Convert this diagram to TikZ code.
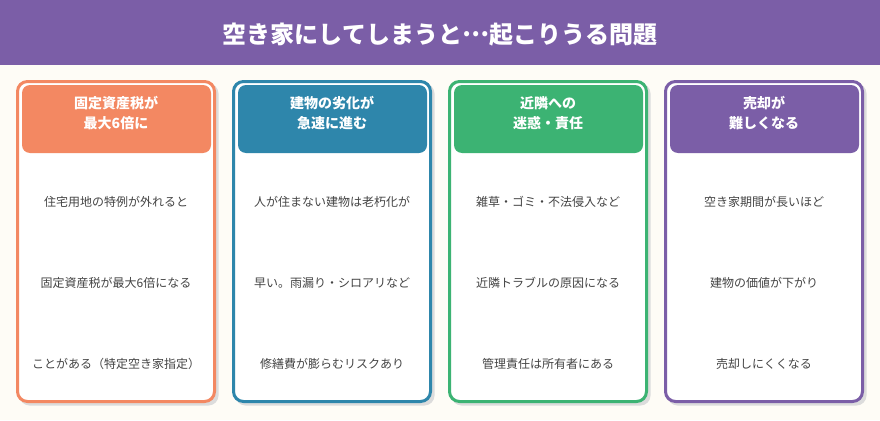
\documentclass[tikz,border=0pt]{standalone}
\usepackage{fontspec}
\setmainfont{Noto Sans CJK JP}
\usetikzlibrary{positioning}

\definecolor{bgcol}{HTML}{FEFCF6}
\definecolor{bandcol}{HTML}{7B5EA7}
\definecolor{taxcol}{HTML}{F38862}
\definecolor{agecol}{HTML}{2E86AB}
\definecolor{nbrcol}{HTML}{3CB373}
\definecolor{salecol}{HTML}{7B5EA7}
\definecolor{itemcol}{HTML}{444444}
\definecolor{shadowcol}{HTML}{DCDCDC}

\tikzset{
  cardbox/.style={draw=#1, line width=3pt, fill=white, rounded corners=10pt,
    minimum width=197pt, minimum height=320pt, inner sep=0pt},
  cardshadow/.style={fill=shadowcol, rounded corners=10pt,
    minimum width=199pt, minimum height=322pt, inner sep=0pt},
  headbox/.style={fill=#1, rounded corners=8pt, minimum width=189pt,
    minimum height=68pt, inner sep=0pt},
  headtext/.style={text=white, align=center, inner sep=0pt,
    font=\bfseries\fontsize{14}{20}\selectfont},
  itemtext/.style={text=itemcol, inner sep=0pt, font=\fontsize{12}{14}\selectfont}
}

\begin{document}
\begin{tikzpicture}[x=1pt, y=-1pt]

\def\width{880}
\def\height{420}
\def\step{216}

% CANVAS
\fill [bgcol] (0,0) rectangle (\width,\height);
\useasboundingbox (0,0) rectangle (\width,\height);

% TITLE
\fill [bandcol] (0,0) rectangle (\width,65);
\node [text=white, font=\bfseries\fontsize{24}{28}\selectfont] (title) at (440,35)
  {空き家にしてしまうと\raisebox{0.3em}{…}起こりうる問題};

% CARDS
\foreach \i/\col/\head/\ta/\tb/\tc in {
  1/taxcol/{固定資産税が\\最大6倍に}/{住宅用地の特例が外れると}/{固定資産税が最大6倍になる}/{ことがある（特定空き家指定）},
  2/agecol/{建物の劣化が\\急速に進む}/{人が住まない建物は老朽化が}/{早い。雨漏り・シロアリなど}/{修繕費が膨らむリスクあり},
  3/nbrcol/{近隣への\\迷惑・責任}/{雑草・ゴミ・不法侵入など}/{近隣トラブルの原因になる}/{管理責任は所有者にある},
  4/salecol/{売却が\\難しくなる}/{空き家期間が長いほど}/{建物の価値が下がり}/{売却しにくくなる}}
{
  \pgfmathsetmacro{\cx}{116+(\i-1)*\step}
  \node [cardshadow] (shadow\i) at (\cx+3,244.5) {};
  \node [cardbox=\col] (card\i) at (\cx,241.5) {};
  \node [headbox=\col] (head\i) at (\cx+0.5,119) {};
  \node [headtext] (htext\i) at (\cx,113) {\head};
  \node [itemtext] (itema\i) at (\cx,202) {\ta};
  \node [itemtext] (itemb\i) at (\cx,283) {\tb};
  \node [itemtext] (itemc\i) at (\cx,364) {\tc};
}

\end{tikzpicture}
\end{document}
